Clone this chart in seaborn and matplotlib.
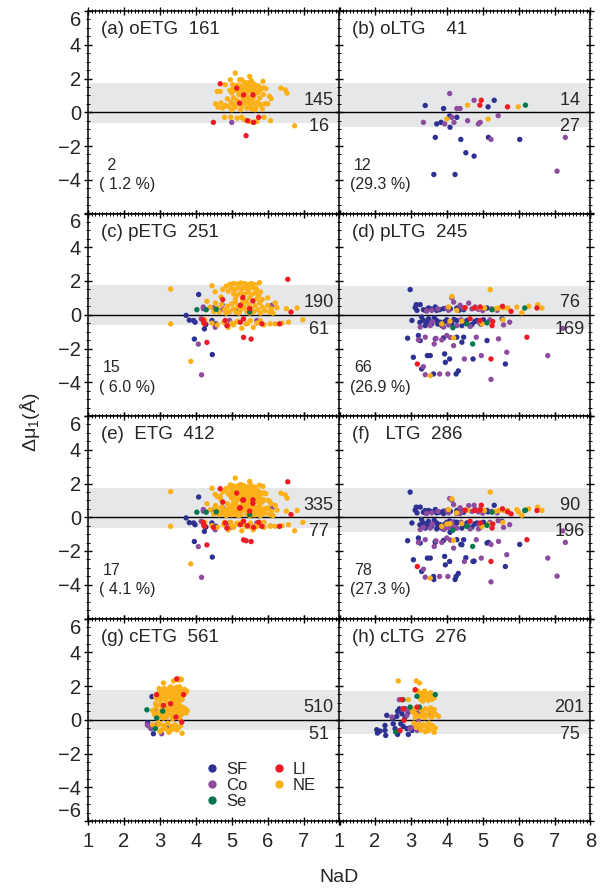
import numpy as np
import pandas as pd
import matplotlib
matplotlib.use("Agg")
import matplotlib.pyplot as plt
from matplotlib.lines import Line2D
from matplotlib.ticker import MultipleLocator
import seaborn as sns

# ---------------- data (NaD, delta mu_1) ----------------
classes = ["SF", "Co", "Se", "LI", "NE"]
colors = {"SF": "#2e3192", "Co": "#8e4c9e", "Se": "#00784c", "LI": "#ed1c24", "NE": "#fbb018"}
draw_order = ["SF", "Co", "NE", "Se", "LI"]

# (a) oETG
a_NE = [(5.10,2.32),(5.50,2.12),(4.96,1.92),(5.22,1.92),(5.28,1.92),(5.54,1.87),(5.87,1.83),(5.35,1.77),
        (5.45,1.75),(5.60,1.70),(4.82,1.63),(5.03,1.63),(5.15,1.60),(5.25,1.55),(5.38,1.58),(5.48,1.60),
        (5.66,1.62),(5.75,1.55),(5.90,1.45),(5.05,1.45),(5.18,1.42),(5.30,1.45),(5.42,1.40),(5.55,1.45),
        (5.62,1.38),(5.70,1.40),(5.82,1.40),(5.95,1.40),(6.37,1.43),(6.49,1.33),(6.54,1.13),(4.60,1.23),
        (4.68,1.23),(4.95,1.30),(5.12,1.30),(5.22,1.25),(5.35,1.30),(5.50,1.28),(5.65,1.25),(5.78,1.30),
        (5.00,1.15),(5.40,1.15),(5.58,1.10),(5.72,1.15),(5.88,1.05),(6.05,0.95),(6.10,0.80),(5.20,1.05),
        (5.30,0.95),(5.45,0.90),(5.62,0.95),(5.78,0.85),(4.55,0.50),(4.62,0.30),(4.70,0.55),(4.75,0.25),
        (4.82,0.42),(4.90,0.35),(4.98,0.60),(5.05,0.45),(5.10,0.30),(5.15,0.70),(5.20,0.50),(5.28,0.40),
        (5.32,0.75),(5.38,0.55),(5.42,0.25),(5.48,0.65),(5.52,0.40),(5.58,0.80),(5.62,0.55),(5.68,0.30),
        (5.72,0.60),(5.80,0.45),(5.85,0.20),(5.92,0.50),(6.00,0.50),(5.25,0.15),(5.05,0.85),(4.88,0.80),
        (5.40,0.85),(5.55,0.20),(5.00,0.15),(5.65,0.15),(4.80,-0.30),(4.97,-0.30),(5.28,-0.30),(5.35,-0.45),
        (5.50,-0.55),(5.70,-0.55),(5.90,-0.30),(6.08,-0.50),(6.75,-0.80),(5.15,-0.35),(5.60,-0.60)]
a_LI = [(4.68,1.69),(5.14,1.43),(5.33,1.03),(5.59,1.03),(5.22,0.54),(4.49,-0.60),(5.44,-0.50),
        (5.61,-0.60),(5.75,-0.30),(5.40,-1.39)]
a_Co = [(5.00,-0.60)]
a_SF, a_Se = [], []

# (b) oLTG
b_SF = [(3.40,0.40),(3.91,0.22),(4.08,-0.22),(4.28,-0.30),(3.72,-0.69),(3.84,-0.60),(4.09,-0.89),
        (3.68,-1.49),(4.39,-1.61),(4.53,-2.40),(4.76,-2.60),(3.64,-3.69),(4.23,-3.69),(5.15,0.32),
        (5.32,0.71),(5.16,-1.49),(6.03,-1.61)]
b_Co = [(4.08,1.11),(3.35,-0.60),(3.94,-0.69),(4.14,-0.30),(4.20,-0.60),(4.28,0.22),(4.37,0.22),
        (4.58,-0.50),(4.76,0.71),(4.88,-0.69),(4.93,-0.60),(5.23,-1.61),(5.43,-0.20),(7.07,-3.49),(7.30,-1.49)]
b_NE = [(4.00,-0.40),(4.58,0.42),(5.15,-0.40),(5.99,0.32)]
b_LI = [(4.96,0.71),(4.92,0.42),(5.69,0.32)]
b_Se = [(6.19,0.42)]

# (c) pETG
c_NE = [(4.45,1.72),(4.54,1.36),(4.75,1.50),(4.85,1.70),(4.95,1.80),(5.05,1.85),(5.15,1.82),(5.25,1.88),
        (5.35,1.85),(5.45,1.80),(5.55,1.85),(5.65,1.78),(5.77,1.90),(4.90,1.40),(5.00,1.55),(5.10,1.50),
        (5.20,1.62),(5.30,1.55),(5.40,1.60),(5.50,1.55),(5.60,1.62),(5.70,1.50),(5.80,1.35),(5.05,1.25),
        (5.15,1.15),(5.25,1.30),(5.35,1.20),(5.45,1.35),(5.55,1.20),(5.65,1.30),(5.75,1.15),(4.70,1.05),
        (5.10,0.95),(5.30,0.95),(5.50,1.00),(5.70,0.95),(5.85,0.90),(6.00,1.00),(4.31,0.80),(4.40,0.45),
        (4.50,0.20),(4.60,0.40),(4.65,0.15),(4.72,0.60),(4.80,0.30),(4.88,0.50),(4.95,0.20),(5.00,0.65),
        (5.05,0.35),(5.12,0.15),(5.18,0.50),(5.25,0.30),(5.30,0.70),(5.35,0.45),(5.42,0.20),(5.48,0.60),
        (5.55,0.35),(5.60,0.15),(5.65,0.55),(5.72,0.30),(5.78,0.70),(5.85,0.45),(5.92,0.25),(6.00,0.55),
        (6.10,0.35),(6.21,0.70),(6.26,0.42),(6.52,0.36),(6.82,0.40),(4.55,0.70),(4.85,0.10),(5.20,0.10),
        (5.50,0.10),(5.80,0.10),(6.05,0.15),(6.15,0.10),(5.40,0.80),(5.10,0.75),(3.30,-0.54),(4.25,-0.30),
        (4.45,-0.50),(4.60,-0.60),(4.78,-0.45),(4.90,-0.75),(5.05,-0.60),(5.15,-0.40),(5.28,-0.80),
        (5.40,-0.55),(5.52,-0.35),(5.60,-0.75),(5.70,-0.50),(5.80,-0.35),(5.90,-0.60),(6.07,-0.54),
        (6.21,-0.54),(6.58,-0.44),(6.98,-0.30),(6.40,-0.50),(5.45,-0.50),(5.00,-0.50),(3.30,1.52),(3.86,-2.76)]
c_LI = [(4.75,0.90),(5.31,1.02),(5.59,0.82),(5.24,0.56),(4.22,-0.44),(4.24,-0.54),(4.82,-0.34),
        (4.87,-0.64),(5.24,-0.44),(5.33,-0.24),(5.84,-0.54),(6.33,-0.54),(4.31,-1.64),(5.33,-1.34),
        (5.54,-1.44),(6.56,2.10),(6.65,0.16),(5.50,0.36),(4.20,-0.30)]
c_SF = [(4.08,1.20),(3.73,-0.04),(3.82,-0.32),(3.94,-0.34),(3.98,-0.44),(3.96,-1.44),(4.24,-0.84),
        (4.28,-0.58),(4.45,-0.34),(4.46,-2.36),(4.73,0.60),(4.56,-0.54)]
c_Co = [(4.21,0.46),(4.21,0.36),(4.15,-0.24),(4.07,-1.74),(4.16,-3.56),(4.49,0.42),(4.75,0.30),
        (4.87,-0.64),(4.94,-0.34),(5.14,0.22),(5.70,-0.34),(6.12,0.56),(4.54,-0.74)]
c_Se = [(4.03,0.30),(4.29,0.30),(4.57,0.32),(5.50,0.16)]

# (d) pLTG
d_SF = [(2.98,1.49),(3.15,0.60),(3.26,0.60),(3.12,0.42),(3.49,0.40),(3.68,0.46),(3.91,0.36),(4.28,0.40),
        (5.02,0.34),(5.12,0.40),(3.03,-0.34),(3.35,-0.34),(3.40,-0.64),(3.49,-0.24),(3.58,-0.54),
        (3.72,-0.34),(3.86,-0.64),(4.00,-0.30),(4.14,-0.54),(4.28,-0.34),(4.42,-0.64),(4.56,-0.34),
        (4.70,-0.58),(4.84,-0.34),(5.02,-0.30),(5.54,-0.24),(2.91,-1.39),(3.21,-1.23),(3.26,-1.53),
        (3.68,-1.43),(3.91,-1.37),(4.28,-1.33),(4.42,-1.63),(4.47,-1.33),(5.12,-1.53),(3.07,-2.52),
        (3.46,-2.42),(3.54,-2.42),(3.94,-2.32),(3.96,-2.82),(4.08,-2.62),(4.73,-2.62),(5.63,-2.92),
        (3.63,-3.51),(4.26,-3.51),(4.32,-3.33),(3.30,-3.21),(3.30,-0.14),(3.44,-0.50),(3.65,-0.18),
        (3.82,-0.44),(3.40,0.26),(3.17,0.26),(3.72,0.26),(4.47,0.30),
        (3.35,0.30),(3.55,0.35),(3.80,0.30),(4.10,0.35),(4.35,0.28),(3.45,-0.40),(3.75,-0.55),
        (3.95,-0.40),(4.20,-0.28),(4.50,-0.45),(4.78,-0.40),(4.95,-0.55),(3.25,-0.45)]
d_Co = [(3.44,0.22),(3.58,0.26),(4.05,0.26),(4.19,0.75),(4.14,1.01),(4.37,0.56),(4.61,0.69),(4.79,0.46),
        (4.88,0.32),(5.40,0.26),(3.26,-0.73),(3.54,-0.64),(3.91,-0.73),(4.28,-0.64),(4.65,-0.69),
        (5.75,-0.44),(5.58,-0.60),(3.21,-1.49),(3.40,-1.33),(3.86,-1.49),(4.00,-1.23),(4.19,-1.83),
        (4.82,-1.33),(5.44,-1.43),(5.67,-2.22),(4.49,-2.62),(4.96,-2.42),(6.81,-2.42),(3.35,-3.08),
        (3.40,-3.55),(3.80,-3.51),(4.03,-3.51),(5.23,-3.83),(7.23,-0.81),(3.65,-1.73),
        (3.75,0.35),(4.00,0.40),(4.45,0.40),(4.70,0.35),(5.00,0.25),(5.25,0.35),(3.60,-0.40),
        (4.05,-0.60),(4.40,-0.30),(4.90,-0.45),(5.20,-0.30),(3.70,-1.40),(4.10,-1.35)]
d_NE = [(4.14,1.09),(5.21,1.49),(4.05,0.46),(4.28,0.26),(4.93,0.42),(5.44,0.40),(5.58,0.40),(5.70,0.40),
        (6.28,0.50),(6.53,0.60),(6.65,0.40),(6.09,0.12),(3.86,-0.54),(4.09,-0.38),(4.42,-0.38),
        (4.98,-0.54),(5.56,-0.30),(4.19,-1.37),(3.54,-3.61),(5.05,0.40),(5.35,0.35),(5.95,0.45)]
d_LI = [(4.51,0.42),(4.77,0.40),(4.93,0.46),(5.55,0.50),(5.79,0.20),(6.51,0.40),(4.65,-0.24),
        (4.93,-0.34),(5.28,-0.40),(5.26,-0.64),(6.23,-1.33),(5.23,-2.62),(3.18,-2.92)]
d_Se = [(5.26,0.30),(6.17,0.40),(4.17,-0.77),(4.72,-1.73),(4.56,-0.54),(5.12,-0.48)]

# (g) cETG
g_NE = [(2.88,1.40),(2.95,1.55),(3.00,1.30),(3.05,1.70),(3.08,1.45),(3.12,1.85),(3.15,1.20),(3.18,1.60),
        (3.22,1.35),(3.25,1.75),(3.28,1.50),(3.30,1.95),(3.33,1.25),(3.36,1.65),(3.40,1.40),(3.42,1.85),
        (3.45,1.15),(3.48,1.55),(3.50,1.75),(3.53,1.30),(3.55,1.95),(3.58,1.50),(3.60,1.70),(3.62,1.20),
        (3.65,1.45),(3.68,1.80),(3.72,1.60),(3.75,1.70),(2.98,1.85),(3.02,1.15),(3.20,1.05),(3.38,1.05),
        (3.52,1.10),(3.10,1.58),(3.27,1.88),(3.46,1.92),(2.92,1.25),(3.10,2.18),(3.38,2.30),(3.47,2.40),
        (3.56,2.43),(3.52,2.35),(3.60,2.38),(2.80,0.55),(2.85,0.30),(2.90,0.75),(2.95,0.45),(3.00,0.20),
        (3.02,0.90),(3.05,0.60),(3.08,0.35),(3.12,0.80),(3.15,0.50),(3.18,0.15),(3.20,0.70),(3.23,0.40),
        (3.26,0.95),(3.30,0.60),(3.33,0.25),(3.36,0.80),(3.40,0.50),(3.43,0.15),(3.46,0.70),(3.50,0.40),
        (3.53,0.90),(3.56,0.60),(3.60,0.30),(3.63,0.75),(3.66,0.50),(3.70,0.65),(3.73,0.40),(3.76,0.55),
        (3.10,0.10),(3.35,0.05),(3.55,0.10),(2.88,0.95),(3.45,1.00),(2.80,-0.30),(2.90,-0.45),(3.00,-0.25),
        (3.05,-0.60),(3.12,-0.35),(3.18,-0.55),(3.22,-0.20),(3.28,-0.65),(3.32,-0.40),(3.38,-0.55),
        (3.42,-0.30),(3.48,-0.60),(3.52,-0.45),(3.58,-0.35),(3.62,-0.80),(3.00,-0.70),(3.25,-0.75),(2.95,-0.15)]
g_LI = [(3.47,2.42),(2.91,1.49),(3.66,1.49),(3.10,0.85),(3.45,0.16),(3.61,-0.14),(3.30,0.95)]
g_SF = [(2.78,1.37),(2.66,-0.18),(2.82,-0.83),(2.92,-0.30),(3.21,-0.50)]
g_Co = [(2.65,-0.30),(2.68,-0.36),(2.75,-0.53),(2.89,0.51),(3.05,-0.83),(2.88,-0.35),(3.12,0.60)]
g_Se = [(2.64,0.59),(3.08,0.51),(2.91,0.10),(2.87,-0.53)]

# (h) cLTG
h_NE = [(3.20,1.70),(3.25,1.55),(3.30,1.40),(3.35,1.60),(3.40,1.25),(3.45,1.50),(3.50,1.35),(3.55,1.60),
        (3.60,1.45),(3.65,1.30),(3.28,1.20),(3.38,1.70),(3.48,1.15),(3.58,1.20),(3.22,1.35),(3.42,1.42),
        (3.52,1.55),(3.33,1.10),(3.00,0.70),(3.05,0.45),(3.10,0.60),(3.15,0.30),(3.20,0.70),(3.25,0.20),
        (3.30,0.55),(3.35,0.35),(3.40,0.65),(3.45,0.25),(3.50,0.50),(3.55,0.70),(3.60,0.40),(3.65,0.60),
        (3.70,0.30),(3.77,0.20),(3.12,0.15),(3.38,0.12),(3.58,0.15),(3.08,-0.20),(3.15,-0.45),(3.22,-0.25),
        (3.28,-0.60),(3.35,-0.30),(3.40,-0.70),(3.45,-0.45),(3.50,-0.20),(3.55,-0.55),(3.60,-0.35),
        (3.65,-0.75),(3.68,-0.50),(3.30,-0.40),(3.48,-0.65),(2.65,2.30),(3.15,2.30),(3.24,2.18),
        (2.93,1.19),(3.12,1.74)]
h_SF = [(2.05,-0.59),(2.07,-0.79),(2.14,-0.67),(2.28,-0.34),(2.28,-0.63),(2.30,-0.93),(2.33,0.26),
        (2.51,-0.24),(2.56,-0.53),(2.63,-0.87),(2.68,-0.67),(2.72,-0.24),(2.61,0.20),(2.63,0.50),
        (2.75,0.36),(2.84,0.16),(2.93,0.46),(2.89,-0.53),(2.93,-0.87),(2.79,-0.40),(2.98,-0.48),
        (2.68,0.65),(2.84,0.65),(3.03,-0.63),(2.50,0.06)]
h_Co = [(2.68,1.19),(2.78,0.65),(2.87,0.59),(2.47,0.16),(2.89,0.26),(2.98,0.55),(3.07,0.55),(3.21,0.46),
        (3.21,-0.08),(2.98,-0.53),(3.17,-0.63),(3.54,0.36),(3.26,-0.53),(3.09,-0.40)]
h_LI = [(3.12,1.78),(2.79,0.65),(2.75,1.19),(2.81,-0.04),(2.70,-0.63),(3.17,0.75)]
h_Se = [(2.78,1.19),(3.68,1.49),(2.58,-0.73),(3.24,0.75),(2.98,0.75),(3.17,1.39)]

panel_titles = {"a": "(a) oETG  161", "b": "(b) oLTG    41", "c": "(c) pETG  251", "d": "(d) pLTG  245",
                "e": "(e)  ETG  412", "f": "(f)   LTG  286", "g": "(g) cETG  561", "h": "(h) cLTG  276"}
n_above = {"a": 145, "b": 14, "c": 190, "d": 76, "e": 335, "f": 90, "g": 510, "h": 201}
n_below = {"a": 16, "b": 27, "c": 61, "d": 169, "e": 77, "f": 196, "g": 51, "h": 75}
n_out = {"a": "2", "b": "12", "c": "15", "d": "66", "e": "17", "f": "78"}
pct_out = {"a": "( 1.2 %)", "b": "(29.3 %)", "c": "( 6.0 %)", "d": "(26.9 %)", "e": "( 4.1 %)", "f": "(27.3 %)"}
band_etg = (-0.63, 1.75)
band_ltg = (-0.85, 1.72)
x_ticks = [1, 2, 3, 4, 5, 6, 7, 8]

# ---------------- table ----------------
base = {
    "a": {"SF": a_SF, "Co": a_Co, "Se": a_Se, "LI": a_LI, "NE": a_NE},
    "b": {"SF": b_SF, "Co": b_Co, "Se": b_Se, "LI": b_LI, "NE": b_NE},
    "c": {"SF": c_SF, "Co": c_Co, "Se": c_Se, "LI": c_LI, "NE": c_NE},
    "d": {"SF": d_SF, "Co": d_Co, "Se": d_Se, "LI": d_LI, "NE": d_NE},
    "g": {"SF": g_SF, "Co": g_Co, "Se": g_Se, "LI": g_LI, "NE": g_NE},
    "h": {"SF": h_SF, "Co": h_Co, "Se": h_Se, "LI": h_LI, "NE": h_NE},
}
# ETG = oETG + pETG, LTG = oLTG + pLTG
base["e"] = {k: base["a"][k] + base["c"][k] for k in classes}
base["f"] = {k: base["b"][k] + base["d"][k] for k in classes}

rows = []
for p, d in base.items():
    for k in draw_order:
        for (x, y) in d[k]:
            rows.append((p, k, x, y))
df = pd.DataFrame(rows, columns=["panel", "cls", "NaD", "dmu"])

# ---------------- figure ----------------
sns.set_style("ticks")
plt.rcParams["font.family"] = ["Liberation Sans", "DejaVu Sans"]
plt.rcParams["mathtext.default"] = "regular"

W, H = 602, 889
fig = plt.figure(figsize=(W / 100, H / 100), dpi=100)
left_px = [88, 339]
col_w = 251.5
row_top = [11, 213.5, 416, 618.5]
row_h = 202.5
layout = [["a", "b"], ["c", "d"], ["e", "f"], ["g", "h"]]

for r in range(4):
    for cidx in range(2):
        p = layout[r][cidx]
        ax = fig.add_axes([left_px[cidx] / W, 1 - (row_top[r] + row_h) / H, col_w / W, row_h / H])
        band = band_etg if cidx == 0 else band_ltg
        ax.axhspan(band[0], band[1], color="#e6e7e9", lw=0, zorder=0)
        ax.axhline(0, color="black", lw=1.0, zorder=1)
        sub = df[df.panel == p]
        sns.scatterplot(data=sub, x="NaD", y="dmu", hue="cls", palette=colors, s=15,
                        linewidth=0, legend=False, ax=ax, zorder=3)
        ax.set_xlim(1, 8)
        ax.set_ylim(-6, 6)
        ax.set_xlabel("")
        ax.set_ylabel("")
        ax.xaxis.set_minor_locator(MultipleLocator(0.1))
        ax.yaxis.set_minor_locator(MultipleLocator(0.5))
        ax.tick_params(which="both", direction="inout", top=True, right=True, left=True, bottom=True,
                       color="black")
        ax.tick_params(which="major", length=6, width=1.0, labelsize=14.5)
        ax.tick_params(which="minor", length=2.5, width=0.7)
        ax.tick_params(axis="x", pad=5)
        ax.tick_params(axis="y", pad=2)
        for s in ax.spines.values():
            s.set_linewidth(1.1)
            s.set_color("black")
        ax.set_facecolor("white")

        ax.set_xticks(x_ticks)
        if r < 3:
            ax.set_xticklabels([])
        else:
            xl = [str(v) for v in x_ticks]
            if cidx == 0:
                xl[-1] = ""
            ax.set_xticklabels(xl)
        yt = [-6, -4, -2, 0, 2, 4, 6]
        ax.set_yticks(yt)
        if cidx == 1:
            ax.set_yticklabels([])
        else:
            labs = ["\u2212" + str(-v) if v < 0 else str(v) for v in yt]
            if r < 3:
                labs[0] = ""
            ax.set_yticklabels(labs)
            tl = ax.get_yticklabels()
            tl[-1].set_verticalalignment("top")
            if r == 3:
                tl[0].set_verticalalignment("bottom")

        ax.text(1.36, 4.9, panel_titles[p], ha="left", va="center", fontsize=13.5)
        ax.text(7.0, 0.7, "%3d" % n_above[p] if n_above[p] >= 100 else " " + str(n_above[p]),
                ha="left", va="center", fontsize=13)
        ax.text(7.0, -0.85, "%3d" % n_below[p] if n_below[p] >= 100 else " " + str(n_below[p]),
                ha="left", va="center", fontsize=13)
        if p in n_out:
            cnt = n_out[p] if len(n_out[p]) > 1 else " " + n_out[p]
            ax.text(1.42, -3.15, cnt, ha="left", va="center", fontsize=11.5)
            ax.text(1.3, -4.3, pct_out[p], ha="left", va="center", fontsize=11.5)

        if p == "g":
            handles = [Line2D([], [], marker="o", ls="", color=colors[k], markersize=6, markeredgewidth=0)
                       for k in classes]
            ax.legend(handles, classes, ncol=2, loc="upper left", bbox_to_anchor=(0.475, 0.29),
                      frameon=False, fontsize=12, handlelength=0.6, handletextpad=0.5,
                      columnspacing=1.6, labelspacing=0.05, borderpad=0, borderaxespad=0)

fig.text(30 / W, 1 - 422 / H, "Δμ$_1$(Å)", rotation=90, ha="center", va="center", fontsize=14)
fig.text(339 / W, 1 - 877 / H, "NaD", ha="center", va="center", fontsize=14)

fig.savefig("out.png", dpi=100, facecolor="white")
